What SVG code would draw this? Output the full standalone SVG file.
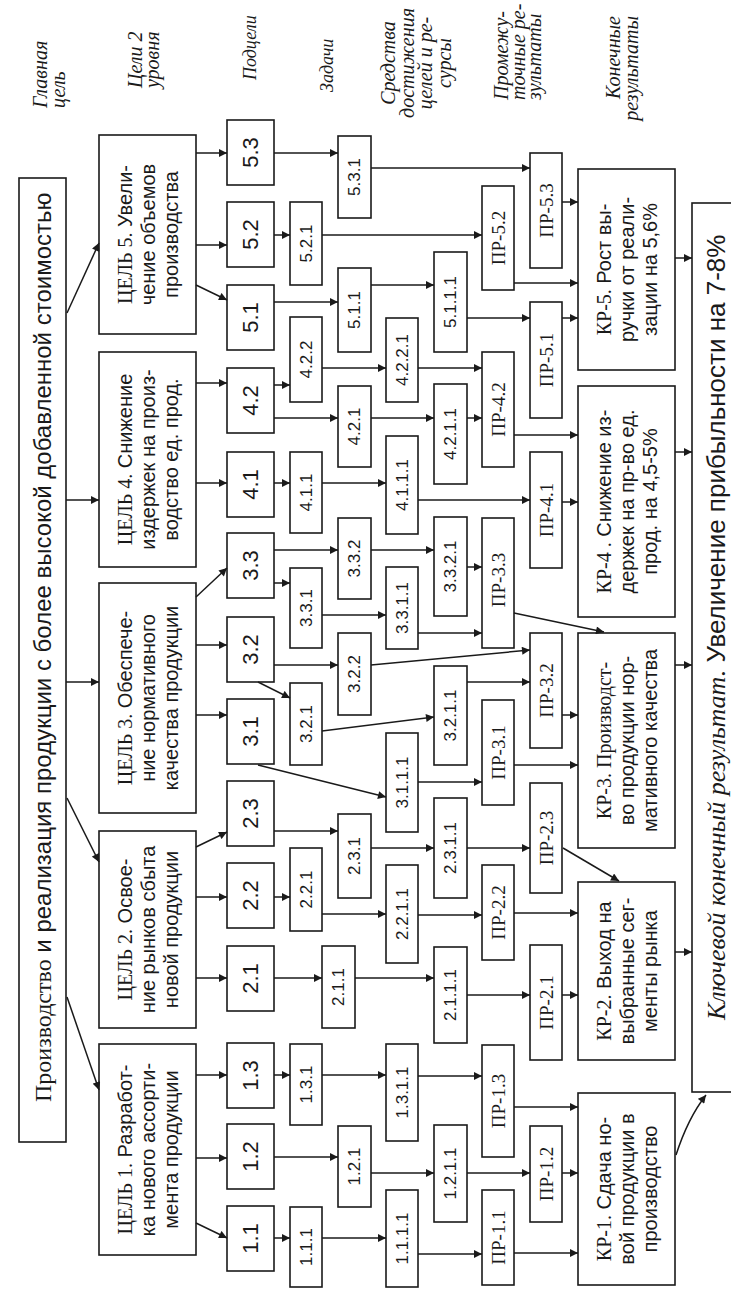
<svg xmlns="http://www.w3.org/2000/svg" width="731" height="1289" viewBox="0 0 731 1289">
<style>
.b{fill:#fff;stroke:#1a1a1a;stroke-width:1.6}
.c{fill:none;stroke:#1a1a1a;stroke-width:1.5;marker-end:url(#ah)}
text{fill:#1a1a1a;dominant-baseline:central;text-anchor:middle}
.s{font-family:"Liberation Sans",Arial,sans-serif}
.r{font-family:"Liberation Serif","Times New Roman",serif}
.h{font-family:"Liberation Serif","Times New Roman",serif;font-style:italic;font-size:20px}
.hs{font-size:18px}
.g{font-size:20px}
.n2{font-size:22px}
.n3{font-size:17px}
.p{font-size:19px}
.st{text-anchor:start}
.en{text-anchor:end}
</style>
<defs>
<marker id="ah" viewBox="0 0 10 10" refX="10" refY="5" markerWidth="9" markerHeight="8" markerUnits="userSpaceOnUse" orient="auto"><path d="M0,0 L10,5 L0,10 z" fill="#1a1a1a"/></marker>
</defs>
<rect width="731" height="1289" fill="#fff"/>

<g id="headers">
<text class="h st" transform="translate(49 108) rotate(-90)"><tspan x="0" dy="-9">Главная</tspan><tspan x="0" dy="18">цель</tspan></text>
<text class="h st" transform="translate(143.5 88) rotate(-90)"><tspan x="0" dy="-8.5">Цели 2</tspan><tspan x="0" dy="17">уровня</tspan></text>
<text class="h hs st" transform="translate(250 80) rotate(-90)">Подцели</text>
<text class="h hs st" transform="translate(327 92) rotate(-90)">Задачи</text>
<text class="h" transform="translate(416 63) rotate(-90)"><tspan x="0" dy="-28">Средства</tspan><tspan x="0" dy="18.7">достижения</tspan><tspan x="0" dy="18.7">целей и ре-</tspan><tspan x="0" dy="18.7">сурсы</tspan></text>
<text class="h st" transform="translate(517.5 100) rotate(-90)"><tspan x="0" dy="-16.5">Промежу-</tspan><tspan x="0" dy="16.5">точные ре-</tspan><tspan x="0" dy="16.5">зультаты</tspan></text>
<text class="h en" transform="translate(622 16) rotate(-90)"><tspan x="0" dy="-9">Конечные</tspan><tspan x="0" dy="18">результаты</tspan></text>
</g>

<g id="main">
<rect class="b" x="19" y="178" width="47" height="964"/>
<text class="s st" font-size="24" transform="translate(42.5 1102) rotate(-90)"><tspan class="r">Производство</tspan> и реализация продукции с более высокой добавленной стоимостью</text>
</g>

<g id="goal5"><rect class="b" x="99" y="135" width="97" height="199"/>
<text class="s g" transform="translate(147.5 234.5) rotate(-90)"><tspan x="0" dy="-23"><tspan class="r">ЦЕЛЬ 5.</tspan> Увели-</tspan><tspan x="0" dy="23">чение объемов</tspan><tspan x="0" dy="23">производства</tspan></text></g>
<g id="goal4"><rect class="b" x="99" y="352" width="97" height="215"/>
<text class="s g" transform="translate(147.5 459.5) rotate(-90)"><tspan x="0" dy="-23"><tspan class="r">ЦЕЛЬ 4.</tspan> Снижение</tspan><tspan x="0" dy="23">издержек на произ-</tspan><tspan x="0" dy="23">водство ед. прод.</tspan></text></g>
<g id="goal3"><rect class="b" x="99" y="583" width="97" height="230"/>
<text class="s g" transform="translate(147.5 698) rotate(-90)"><tspan x="0" dy="-23"><tspan class="r">ЦЕЛЬ 3.</tspan> Обеспече-</tspan><tspan x="0" dy="23">ние нормативного</tspan><tspan x="0" dy="23">качества продукции</tspan></text></g>
<g id="goal2"><rect class="b" x="99" y="831" width="97" height="197"/>
<text class="s g" transform="translate(147.5 929.5) rotate(-90)"><tspan x="0" dy="-23"><tspan class="r">ЦЕЛЬ 2.</tspan> Освое-</tspan><tspan x="0" dy="23">ние рынков сбыта</tspan><tspan x="0" dy="23">новой продукции</tspan></text></g>
<g id="goal1"><rect class="b" x="99" y="1044" width="97" height="211"/>
<text class="s g" transform="translate(147.5 1149.5) rotate(-90)"><tspan x="0" dy="-23"><tspan class="r">ЦЕЛЬ 1.</tspan> Разработ-</tspan><tspan x="0" dy="23">ка нового ассорти-</tspan><tspan x="0" dy="23">мента продукции</tspan></text></g>

<g id="sub5_3"><rect class="b" x="227" y="120" width="47" height="65"/><text class="s n2" transform="translate(250.5 152.5) rotate(-90)">5.3</text></g>
<g id="sub5_2"><rect class="b" x="227" y="202" width="47" height="65"/><text class="s n2" transform="translate(250.5 234.5) rotate(-90)">5.2</text></g>
<g id="sub5_1"><rect class="b" x="227" y="285" width="47" height="65"/><text class="s n2" transform="translate(250.5 317.5) rotate(-90)">5.1</text></g>
<g id="sub4_2"><rect class="b" x="227" y="368" width="47" height="65"/><text class="s n2" transform="translate(250.5 400.5) rotate(-90)">4.2</text></g>
<g id="sub4_1"><rect class="b" x="227" y="452" width="47" height="65"/><text class="s n2" transform="translate(250.5 484.5) rotate(-90)">4.1</text></g>
<g id="sub3_3"><rect class="b" x="227" y="533" width="47" height="65"/><text class="s n2" transform="translate(250.5 565.5) rotate(-90)">3.3</text></g>
<g id="sub3_2"><rect class="b" x="227" y="617" width="47" height="65"/><text class="s n2" transform="translate(250.5 649.5) rotate(-90)">3.2</text></g>
<g id="sub3_1"><rect class="b" x="227" y="699" width="47" height="65"/><text class="s n2" transform="translate(250.5 731.5) rotate(-90)">3.1</text></g>
<g id="sub2_3"><rect class="b" x="227" y="781" width="47" height="65"/><text class="s n2" transform="translate(250.5 813.5) rotate(-90)">2.3</text></g>
<g id="sub2_2"><rect class="b" x="227" y="863" width="47" height="65"/><text class="s n2" transform="translate(250.5 895.5) rotate(-90)">2.2</text></g>
<g id="sub2_1"><rect class="b" x="227" y="946" width="47" height="65"/><text class="s n2" transform="translate(250.5 978.5) rotate(-90)">2.1</text></g>
<g id="sub1_3"><rect class="b" x="227" y="1043" width="47" height="65"/><text class="s n2" transform="translate(250.5 1075.5) rotate(-90)">1.3</text></g>
<g id="sub1_2"><rect class="b" x="227" y="1124" width="47" height="65"/><text class="s n2" transform="translate(250.5 1156.5) rotate(-90)">1.2</text></g>
<g id="sub1_1"><rect class="b" x="227" y="1206" width="47" height="65"/><text class="s n2" transform="translate(250.5 1238.5) rotate(-90)">1.1</text></g>

<g id="t5_2_1"><rect class="b" x="290" y="202" width="32" height="83"/><text class="s n3" transform="translate(306 243.5) rotate(-90)">5.2.1</text></g>
<g id="t4_2_2"><rect class="b" x="290" y="317" width="32" height="85"/><text class="s n3" transform="translate(306 359.5) rotate(-90)">4.2.2</text></g>
<g id="t4_1_1"><rect class="b" x="290" y="452" width="32" height="81"/><text class="s n3" transform="translate(306 492.5) rotate(-90)">4.1.1</text></g>
<g id="t3_3_1"><rect class="b" x="290" y="568" width="32" height="80"/><text class="s n3" transform="translate(306 608) rotate(-90)">3.3.1</text></g>
<g id="t3_2_1"><rect class="b" x="290" y="683" width="32" height="82"/><text class="s n3" transform="translate(306 724) rotate(-90)">3.2.1</text></g>
<g id="t2_2_1"><rect class="b" x="290" y="848" width="32" height="83"/><text class="s n3" transform="translate(306 889.5) rotate(-90)">2.2.1</text></g>
<g id="t1_3_1"><rect class="b" x="290" y="1044" width="32" height="81"/><text class="s n3" transform="translate(306 1084.5) rotate(-90)">1.3.1</text></g>
<g id="t1_1_1"><rect class="b" x="290" y="1207" width="32" height="80"/><text class="s n3" transform="translate(306 1247) rotate(-90)">1.1.1</text></g>
<g id="t2_1_1"><rect class="b" x="322" y="946" width="33" height="82"/><text class="s n3" transform="translate(338.5 987) rotate(-90)">2.1.1</text></g>

<g id="t5_3_1"><rect class="b" x="338" y="136" width="33" height="82"/><text class="s n3" transform="translate(354.5 177) rotate(-90)">5.3.1</text></g>
<g id="t5_1_1"><rect class="b" x="338" y="268" width="33" height="84"/><text class="s n3" transform="translate(354.5 310) rotate(-90)">5.1.1</text></g>
<g id="t4_2_1"><rect class="b" x="338" y="386" width="33" height="81"/><text class="s n3" transform="translate(354.5 426.5) rotate(-90)">4.2.1</text></g>
<g id="t3_3_2"><rect class="b" x="338" y="518" width="33" height="81"/><text class="s n3" transform="translate(354.5 558.5) rotate(-90)">3.3.2</text></g>
<g id="t3_2_2"><rect class="b" x="338" y="633" width="33" height="82"/><text class="s n3" transform="translate(354.5 674) rotate(-90)">3.2.2</text></g>
<g id="t2_3_1"><rect class="b" x="338" y="814" width="33" height="84"/><text class="s n3" transform="translate(354.5 856) rotate(-90)">2.3.1</text></g>
<g id="t1_2_1"><rect class="b" x="338" y="1126" width="33" height="81"/><text class="s n3" transform="translate(354.5 1166.5) rotate(-90)">1.2.1</text></g>

<g id="m4_2_2_1"><rect class="b" x="386" y="318" width="32" height="84"/><text class="s n3" transform="translate(402 360) rotate(-90)">4.2.2.1</text></g>
<g id="m4_1_1_1"><rect class="b" x="386" y="436" width="32" height="98"/><text class="s n3" transform="translate(402 485) rotate(-90)">4.1.1.1</text></g>
<g id="m3_3_1_1"><rect class="b" x="386" y="567" width="32" height="82"/><text class="s n3" transform="translate(402 608) rotate(-90)">3.3.1.1</text></g>
<g id="m3_1_1_1"><rect class="b" x="386" y="733" width="32" height="99"/><text class="s n3" transform="translate(402 782.5) rotate(-90)">3.1.1.1</text></g>
<g id="m2_2_1_1"><rect class="b" x="386" y="865" width="32" height="98"/><text class="s n3" transform="translate(402 914) rotate(-90)">2.2.1.1</text></g>
<g id="m1_3_1_1"><rect class="b" x="386" y="1044" width="32" height="97"/><text class="s n3" transform="translate(402 1092.5) rotate(-90)">1.3.1.1</text></g>
<g id="m1_1_1_1"><rect class="b" x="386" y="1190" width="32" height="97"/><text class="s n3" transform="translate(402 1238.5) rotate(-90)">1.1.1.1</text></g>

<g id="m5_1_1_1"><rect class="b" x="434" y="252" width="33" height="100"/><text class="s n3" transform="translate(450.5 302) rotate(-90)">5.1.1.1</text></g>
<g id="m4_2_1_1"><rect class="b" x="434" y="384" width="33" height="100"/><text class="s n3" transform="translate(450.5 434) rotate(-90)">4.2.1.1</text></g>
<g id="m3_3_2_1"><rect class="b" x="434" y="517" width="33" height="99"/><text class="s n3" transform="translate(450.5 566.5) rotate(-90)">3.3.2.1</text></g>
<g id="m3_2_1_1"><rect class="b" x="434" y="666" width="33" height="99"/><text class="s n3" transform="translate(450.5 715.5) rotate(-90)">3.2.1.1</text></g>
<g id="m2_3_1_1"><rect class="b" x="434" y="798" width="33" height="100"/><text class="s n3" transform="translate(450.5 848) rotate(-90)">2.3.1.1</text></g>
<g id="m2_1_1_1"><rect class="b" x="434" y="947" width="33" height="96"/><text class="s n3" transform="translate(450.5 995) rotate(-90)">2.1.1.1</text></g>
<g id="m1_2_1_1"><rect class="b" x="434" y="1125" width="33" height="97"/><text class="s n3" transform="translate(450.5 1173.5) rotate(-90)">1.2.1.1</text></g>

<g id="pr5_2"><rect class="b" x="482" y="186" width="32" height="104"/><text class="r p" transform="translate(498 238) rotate(-90)">ПР-5.2</text></g>
<g id="pr4_2"><rect class="b" x="482" y="352" width="32" height="115"/><text class="r p" transform="translate(498 409.5) rotate(-90)">ПР-4.2</text></g>
<g id="pr3_3"><rect class="b" x="482" y="518" width="32" height="130"/><text class="r p" transform="translate(498 580) rotate(-90)">ПР-3.3</text></g>
<g id="pr3_1"><rect class="b" x="482" y="700" width="32" height="105"/><text class="r p" transform="translate(498 752.5) rotate(-90)">ПР-3.1</text></g>
<g id="pr2_2"><rect class="b" x="482" y="865" width="32" height="95"/><text class="r p" transform="translate(498 912.5) rotate(-90)">ПР-2.2</text></g>
<g id="pr1_3"><rect class="b" x="482" y="1045" width="32" height="112"/><text class="r p" transform="translate(498 1101) rotate(-90)">ПР-1.3</text></g>
<g id="pr1_1"><rect class="b" x="482" y="1190" width="32" height="95"/><text class="r p" transform="translate(498 1237.5) rotate(-90)">ПР-1.1</text></g>

<g id="pr5_3"><rect class="b" x="530" y="153" width="32" height="115"/><text class="r p" transform="translate(546 210.5) rotate(-90)">ПР-5.3</text></g>
<g id="pr5_1"><rect class="b" x="530" y="302" width="32" height="116"/><text class="r p" transform="translate(546 360) rotate(-90)">ПР-5.1</text></g>
<g id="pr4_1"><rect class="b" x="530" y="452" width="32" height="116"/><text class="r p" transform="translate(546 510) rotate(-90)">ПР-4.1</text></g>
<g id="pr3_2"><rect class="b" x="530" y="633" width="32" height="115"/><text class="r p" transform="translate(546 690.5) rotate(-90)">ПР-3.2</text></g>
<g id="pr2_3"><rect class="b" x="530" y="783" width="32" height="110"/><text class="r p" transform="translate(546 838) rotate(-90)">ПР-2.3</text></g>
<g id="pr2_1"><rect class="b" x="530" y="945" width="32" height="115"/><text class="r p" transform="translate(546 1002.5) rotate(-90)">ПР-2.1</text></g>
<g id="pr1_2"><rect class="b" x="530" y="1126" width="32" height="96"/><text class="r p" transform="translate(546 1174) rotate(-90)">ПР-1.2</text></g>

<g id="kr5"><rect class="b" x="578" y="169" width="97" height="201"/>
<text class="s g" transform="translate(626.5 269.5) rotate(-90)"><tspan x="0" dy="-23"><tspan class="r">КР-5.</tspan> Рост вы-</tspan><tspan x="0" dy="23">ручки от реали-</tspan><tspan x="0" dy="23">зации на 5,6%</tspan></text></g>
<g id="kr4"><rect class="b" x="578" y="386" width="97" height="231"/>
<text class="s g" transform="translate(626.5 501.5) rotate(-90)"><tspan x="0" dy="-23"><tspan class="r">КР-4 .</tspan> Снижение  из-</tspan><tspan x="0" dy="23">держек на пр-во ед.</tspan><tspan x="0" dy="23">прод. на 4,5-5%</tspan></text></g>
<g id="kr3"><rect class="b" x="578" y="633" width="97" height="215"/>
<text class="s g" transform="translate(626.5 740.5) rotate(-90)"><tspan x="0" dy="-23" class="r">КР-3. Производст-</tspan><tspan x="0" dy="23">во продукции нор-</tspan><tspan x="0" dy="23">мативного качества</tspan></text></g>
<g id="kr2"><rect class="b" x="578" y="882" width="97" height="178"/>
<text class="s g" transform="translate(626.5 971) rotate(-90)"><tspan x="0" dy="-23"><tspan class="r">КР-2.</tspan> Выход на</tspan><tspan x="0" dy="23">выбранные сег-</tspan><tspan x="0" dy="23">менты рынка</tspan></text></g>
<g id="kr1"><rect class="b" x="578" y="1093" width="97" height="192"/>
<text class="s g" transform="translate(626.5 1189) rotate(-90)"><tspan x="0" dy="-23"><tspan class="r">КР-1.</tspan> Сдача но-</tspan><tspan x="0" dy="23">вой продукции в</tspan><tspan x="0" dy="23">производство</tspan></text></g>

<g id="final"><rect class="b" x="692" y="203" width="60" height="889"/>
<text class="s st" font-size="26" transform="translate(716 1020) rotate(-90)"><tspan class="r" font-style="italic">Ключевой конечный результат.</tspan>  Увеличение прибыльности на 7-8%</text></g>

<g id="connectors">
<path class="c" d="M67,313 L99,243"/>
<path class="c" d="M66,500 H99"/>
<path class="c" d="M66,682 H99"/>
<path class="c" d="M67,798 L99,862"/>
<path class="c" d="M67,997 L99,1090"/>

<path class="c" d="M196,153 H227"/>
<path class="c" d="M196,245 H227"/>
<path class="c" d="M196,285 L227,300"/>
<path class="c" d="M196,383 H227"/>
<path class="c" d="M196,483 H227"/>
<path class="c" d="M196,597 L227,568"/>
<path class="c" d="M196,645 H227"/>
<path class="c" d="M196,715 H227"/>
<path class="c" d="M196,847 L227,832"/>
<path class="c" d="M196,897 H227"/>
<path class="c" d="M196,978 H227"/>
<path class="c" d="M196,1075 H227"/>
<path class="c" d="M196,1158 H227"/>
<path class="c" d="M196,1223 L227,1238"/>

<path class="c" d="M274,153 H338"/>
<path class="c" d="M274,235 H290"/>
<path class="c" d="M274,302 H338"/>
<path class="c" d="M274,385 H290"/>
<path class="c" d="M274,418 H338"/>
<path class="c" d="M274,483 H290"/>
<path class="c" d="M274,550 H338"/>
<path class="c" d="M274,583 H290"/>
<path class="c" d="M274,665 H338"/>
<path class="c" d="M258,682 L290,698"/>
<path class="c" d="M258,765 L386,797"/>
<path class="c" d="M274,831 H338"/>
<path class="c" d="M274,897 H290"/>
<path class="c" d="M274,978 H322"/>
<path class="c" d="M274,1075 H290"/>
<path class="c" d="M274,1157 H338"/>
<path class="c" d="M274,1238 H290"/>

<path class="c" d="M371,168 H530"/>
<path class="c" d="M322,235 H482"/>
<path class="c" d="M371,285 H434"/>
<path class="c" d="M467,318 H530"/>
<path class="c" d="M322,368 H386"/>
<path class="c" d="M418,368 H482"/>
<path class="c" d="M371,418 H434"/>
<path class="c" d="M467,418 H482"/>
<path class="c" d="M322,483 H386"/>
<path class="c" d="M418,500 H530"/>
<path class="c" d="M371,550 H434"/>
<path class="c" d="M467,567 H482"/>
<path class="c" d="M322,615 H386"/>
<path class="c" d="M418,633 H482"/>
<path class="c" d="M371,665 L530,650"/>
<path class="c" d="M322,731 L434,717"/>
<path class="c" d="M467,682 H530"/>
<path class="c" d="M418,782 H482"/>
<path class="c" d="M371,848 H434"/>
<path class="c" d="M467,848 H530"/>
<path class="c" d="M322,914 H386"/>
<path class="c" d="M418,915 H482"/>
<path class="c" d="M355,978 H434"/>
<path class="c" d="M467,995 H530"/>
<path class="c" d="M322,1075 H386"/>
<path class="c" d="M418,1076 H482"/>
<path class="c" d="M371,1173 H434"/>
<path class="c" d="M467,1173 H530"/>
<path class="c" d="M322,1238 H386"/>
<path class="c" d="M418,1254 H482"/>

<path class="c" d="M562,202 H578"/>
<path class="c" d="M514,283 H578"/>
<path class="c" d="M562,318 H578"/>
<path class="c" d="M514,435 H578"/>
<path class="c" d="M562,502 H578"/>
<path class="c" d="M514,613 L604,632"/>
<path class="c" d="M562,715 H578"/>
<path class="c" d="M514,765 H578"/>
<path class="c" d="M563,848 L619,881"/>
<path class="c" d="M514,913 H578"/>
<path class="c" d="M562,995 H578"/>
<path class="c" d="M514,1107 H578"/>
<path class="c" d="M562,1173 H578"/>
<path class="c" d="M514,1253 H578"/>

<path class="c" d="M675,258 H692"/>
<path class="c" d="M675,452 H692"/>
<path class="c" d="M675,665 H692"/>
<path class="c" d="M675,952 H692"/>
<path class="c" d="M676,1155 Q688,1118 706,1095"/>
</g>
</svg>
